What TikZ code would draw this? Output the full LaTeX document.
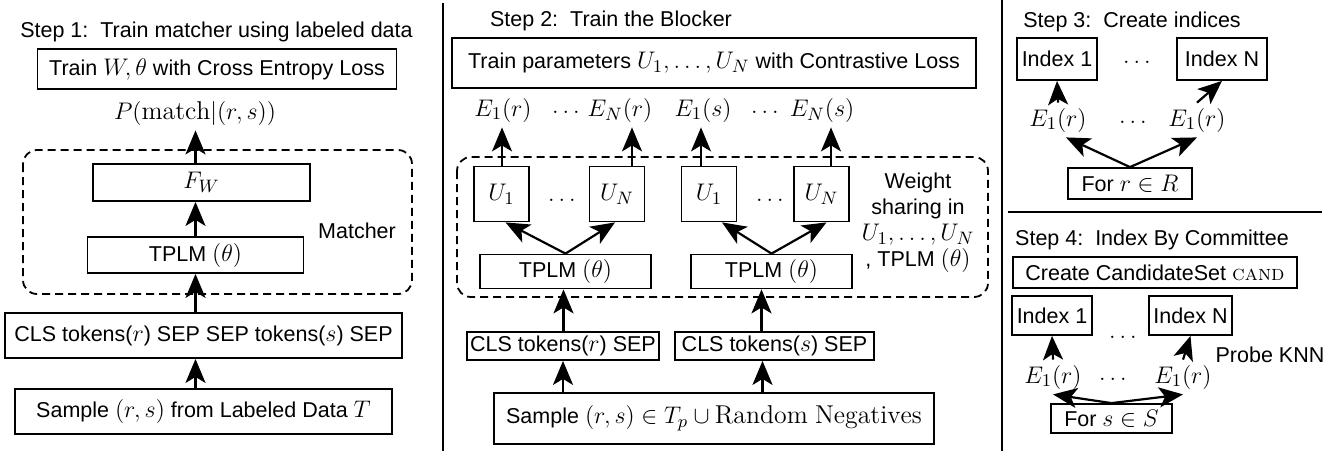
\documentclass[tikz,border=0pt]{standalone}
\usepackage{fontspec}
\setsansfont{Liberation Sans}
\usetikzlibrary{arrows.meta,calc}
\newcommand{\bigmath}[1]{{\fontsize{12.9}{14}\selectfont$#1$}}

\begin{document}
\begin{tikzpicture}
[x=0.5pt,y=-0.5pt,
  lineDecorate/.style={line width=0.9pt},%
  arrowDecorate/.style={line width=1.1pt,-{Stealth[length=12pt,width=10pt,inset=3pt]}},%
  boxDecorate/.style={draw,line width=0.9pt,inner sep=1pt,font=\sffamily\fontsize{10.75}{13}\selectfont},%
  textDecorate/.style={inner sep=2.5pt,font=\sffamily\fontsize{10.75}{13}\selectfont},%
  groupDecorate/.style={draw,line width=0.9pt,dash pattern=on 4pt off 2.5pt,rounded corners=7pt}]
\useasboundingbox (0,0) rectangle (1338,451);
%% boxes
\foreach \nodename/\x/\y/\w/\h/\txt in {
  loss1/217/69/179.5pt/20pt/{Train \bigmath{W,\theta} with Cross Entropy Loss},
  fw/201.5/182.5/108.5pt/18.5pt/{\bigmath{F_W}},
  tplm1/195.5/255/108pt/18pt/{TPLM \bigmath{(\theta)}},
  cls1/203.5/335.5/198.5pt/22.5pt/{CLS tokens(\bigmath{r}) SEP SEP tokens(\bigmath{s}) SEP},
  samp1/203.5/411.5/188.5pt/22.5pt/{Sample \bigmath{(r,s)} from Labeled Data \bigmath{T}},
  loss2/714/63/262pt/25pt/{Train parameters \bigmath{U_1,\ldots,U_N} with Contrastive Loss},
  u1/501.5/194/27.5pt/27.5pt/{\bigmath{U_1}},
  uN/617/194/27.5pt/27.5pt/{\bigmath{U_N}},
  v1/709/194/27.5pt/27.5pt/{\bigmath{U_1}},
  vN/821.5/194/27.5pt/27.5pt/{\bigmath{U_N}},
  tplmA/565.5/271.5/85.5pt/17pt/{TPLM \bigmath{(\theta)}},
  tplmB/771.5/271.5/80.5pt/17pt/{TPLM \bigmath{(\theta)}},
  clsA/563/346/96pt/14pt/{CLS tokens(\bigmath{r}) SEP},
  clsB/774.5/346/99.5pt/14pt/{CLS tokens(\bigmath{s}) SEP},
  samp2/714/418.5/220pt/25.5pt/{Sample \bigmath{(r,s)\in T_p\cup\mathrm{Random\ Negatives}}},
  idx1/1057/59/40pt/21pt/{Index 1},
  idxN/1222/59/45pt/21pt/{Index N},
  forR/1130/183.5/62pt/15.5pt/{For \bigmath{r\in R}},
  cand/1155/272.5/142pt/15.5pt/{Create CandidateSet {\rmfamily\textsc{cand}}},
  idx3/1052/315.5/40pt/19.5pt/{Index 1},
  idx4/1190.5/315.5/41.5pt/19.5pt/{Index N},
  forS/1111.5/418.5/60.5pt/14.5pt/{For \bigmath{s\in S}}}
{
  \node (\nodename) at (\x,\y) [boxDecorate,minimum width=\w,minimum height=\h] {\txt};
}
%% labels
\foreach \nodename/\x/\y/\txt in {
  t1/216.5/32/{Step 1:\ \ Train matcher using labeled data},
  t2/611/21/{Step 2:\ \ Train the Blocker},
  t3/1132/22/{Step 3:\ \ Create indices},
  t4/1152/240/{Step 4:\ \ Index By Committee},
  prob/195/113/{\bigmath{P(\mathrm{match}|(r,s))}},
  matcher/357/231/{Matcher},
  er1/503/110/{\bigmath{E_1(r)}}, d1/566/112/{\bigmath{\ldots}},
  erN/620/110/{\bigmath{E_N(r)}}, es1/703/110/{\bigmath{E_1(s)}},
  d2/765/112/{\bigmath{\ldots}}, esN/822/110/{\bigmath{E_N(s)}},
  d3/562/200/{\bigmath{\ldots}}, d4/770/200/{\bigmath{\ldots}},
  d5/1137/62/{\bigmath{\ldots}},
  fr1/1058/120/{\bigmath{E_1(r)}}, d6/1133/122/{\bigmath{\ldots}},
  fr2/1197/120/{\bigmath{E_1(r)}},
  d7/1123/337/{\bigmath{\ldots}}, probe/1270/355/{Probe KNN},
  gs1/1053/377/{\bigmath{E_1(r)}}, d8/1113/379/{\bigmath{\ldots}},
  gs2/1183/377/{\bigmath{E_1(r)}}}
{
  \node (\nodename) at (\x,\y) [textDecorate] {\txt};
}
\node (share) at (918,223) [textDecorate,align=center]
  {Weight\\sharing in\\\bigmath{U_1,\ldots,U_N}\\, TPLM \bigmath{(\theta)}};
%% groups and separators
\draw[groupDecorate] (23,150) rectangle (412,294);
\draw[groupDecorate] (457,157) rectangle (988,297);
\draw[lineDecorate] (443,3) -- (443,451);
\draw[lineDecorate] (1002,0) -- (1002,451);
\draw[lineDecorate] (1008,212) -- (1322,212);
%% arrows
\foreach \startnode/\endnode in {samp1/cls1, cls1/tplm1, tplm1/fw, fw/prob}
{
  \draw[arrowDecorate] (\startnode.north -| tplm1) -- (\endnode.south -| tplm1);
}
\foreach \startnode/\endnode/\dx in {samp2/clsA/0, samp2/clsB/-12, clsA/tplmA/-2,
  clsB/tplmB/-10, u1/er1/-1, uN/erN/12, v1/es1/-2, vN/esN/9}
{
  \draw[arrowDecorate] ($(\startnode.north -| \endnode.south)+(\dx,0)$) -- ($(\endnode.south)+(\dx,0)$);
}
\foreach \startnode/\endnode/\dx in {tplmA/u1/4, tplmA/uN/-2, tplmB/v1/13, tplmB/vN/5,
  fr1/idx1/0, fr2/idxN/0, forR/fr1/8, forR/fr2/0,
  gs1/idx3/0, gs2/idx4/0, forS/gs1/0, forS/gs2/0}
{
  \draw[arrowDecorate] (\startnode.north) -- ($(\endnode.south)+(\dx,0)$);
}
\end{tikzpicture}
\end{document}
